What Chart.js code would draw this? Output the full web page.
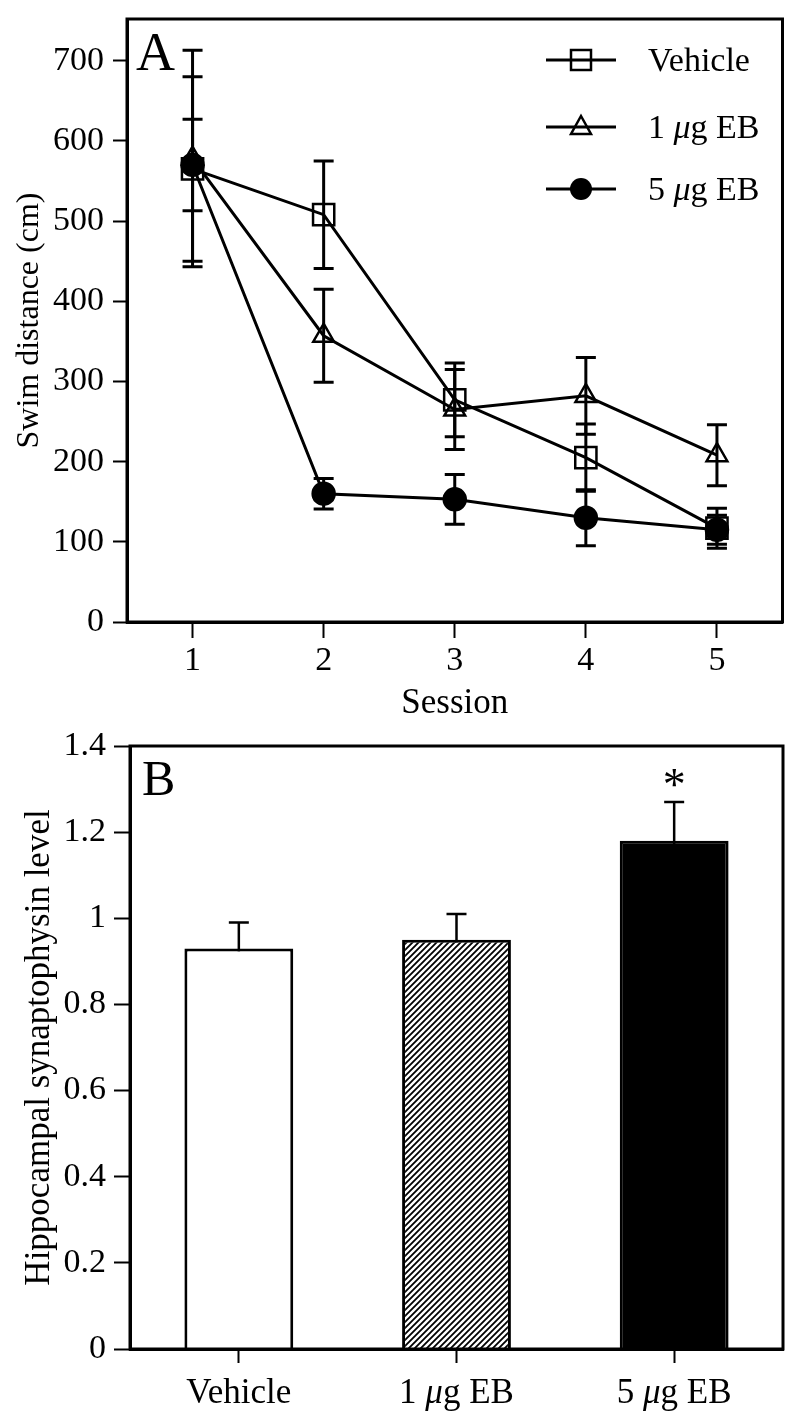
<!DOCTYPE html>
<html><head><meta charset="utf-8">
<script src="https://cdn.jsdelivr.net/npm/chart.js@4.4.1/dist/chart.umd.min.js"></script>
<style>
html,body{margin:0;padding:0;background:#fff;}
#a{position:absolute;left:0;top:0;width:800px;height:725px;}
#b{position:absolute;left:0;top:725px;width:800px;height:697px;}
</style></head><body>
<div id="a"><canvas id="ca"></canvas></div>
<div id="b"><canvas id="cb"></canvas></div>
<script>
// ---- Panel A data ----
const sessions = [1, 2, 3, 4, 5];
const seriesNames = ['Vehicle', '1 μg EB', '5 μg EB'];
const vehicleDist = [565, 508, 277, 205, 117];
const vehicleErr  = [115, 67, 46, 42, 25];
const eb1Dist     = [578, 357, 265, 282, 208];
const eb1Err      = [135, 58, 50, 48, 38];
const eb5Dist     = [570, 160, 153, 130, 115];
const eb5Err      = [57, 19, 31, 35, 18];
const yTicksA     = [0, 100, 200, 300, 400, 500, 600, 700];

// ---- Panel B data ----
const groups    = ['Vehicle', '1 μg EB', '5 μg EB'];
const synLevel  = [0.93, 0.95, 1.18];
const synErr    = [0.06, 0.06, 0.09];
const yTicksB   = [0, 0.2, 0.4, 0.6, 0.8, 1, 1.2, 1.4];
const sigMarks  = ['', '', '*'];

const SERIF = '"Liberation Serif", "DejaVu Serif", serif';

function richParts(str, size) {
  const out = [];
  str.split(/(μ)/).forEach(p => {
    if (!p) return;
    out.push({ t: p, f: (p === 'μ' ? 'italic ' : '') + size + 'px ' + SERIF });
  });
  return out;
}
function drawRich(ctx, str, x, y, size, align) {
  const parts = richParts(str, size);
  let w = 0;
  parts.forEach(p => { ctx.font = p.f; p.w = ctx.measureText(p.t).width; w += p.w; });
  let cx = align === 'center' ? x - w / 2 : x;
  ctx.textAlign = 'left';
  ctx.textBaseline = 'alphabetic';
  parts.forEach(p => { ctx.font = p.f; ctx.fillText(p.t, cx, y); cx += p.w; });
}

const framePlugin = {
  id: 'frame',
  afterDatasetsDraw(chart) {
    const { ctx, chartArea: a } = chart;
    ctx.save();
    ctx.strokeStyle = '#000';
    ctx.lineWidth = 3;
    ctx.strokeRect(a.left, a.top, a.right - a.left, a.bottom - a.top);
    ctx.restore();
  }
};

const errorBarPlugin = {
  id: 'errbars',
  beforeDatasetsDraw(chart, args, opts) {
    const { ctx } = chart;
    const ys = chart.scales.y;
    ctx.save();
    ctx.strokeStyle = '#000';
    ctx.lineWidth = opts.lineWidth || 3;
    const cap = opts.cap || 10;
    chart.data.datasets.forEach((ds, di) => {
      if (!ds.errors) return;
      const meta = chart.getDatasetMeta(di);
      meta.data.forEach((el, i) => {
        const v = ds.data[i];
        const val = (typeof v === 'object') ? v.y : v;
        const e = ds.errors[i];
        const x = el.x;
        const yt = ys.getPixelForValue(val + e);
        const yb = ys.getPixelForValue(val - e);
        ctx.beginPath();
        ctx.moveTo(x, yt); ctx.lineTo(x, yb);
        ctx.moveTo(x - cap, yt); ctx.lineTo(x + cap, yt);
        ctx.moveTo(x - cap, yb); ctx.lineTo(x + cap, yb);
        ctx.stroke();
      });
    });
    ctx.restore();
  }
};

function drawMarker(ctx, style, x, y) {
  ctx.save();
  ctx.strokeStyle = '#000';
  ctx.lineWidth = 2.5;
  ctx.beginPath();
  if (style === 'rect') {
    ctx.rect(x - 10, y - 10, 20, 20);
    ctx.stroke();
  } else if (style === 'triangle') {
    ctx.moveTo(x, y - 11); ctx.lineTo(x + 10, y + 7); ctx.lineTo(x - 10, y + 7); ctx.closePath();
    ctx.stroke();
  } else {
    ctx.arc(x, y, 11, 0, Math.PI * 2);
    ctx.fillStyle = '#000';
    ctx.fill();
  }
  ctx.restore();
}

const legendA = {
  id: 'legendA',
  afterDraw(chart) {
    const { ctx } = chart;
    const rows = [60, 127, 189];
    const styles = ['rect', 'triangle', 'circle'];
    ctx.save();
    ctx.fillStyle = '#000';
    seriesNames.forEach((n, i) => {
      const y = rows[i];
      ctx.strokeStyle = '#000'; ctx.lineWidth = 3;
      ctx.beginPath(); ctx.moveTo(546, y); ctx.lineTo(616, y); ctx.stroke();
      drawMarker(ctx, styles[i], 581, y);
      drawRich(ctx, n, 648, y + 11, 34, 'left');
    });
    ctx.font = '54px ' + SERIF;
    ctx.textAlign = 'left';
    ctx.textBaseline = 'alphabetic';
    ctx.fillText('A', 136, 70);
    ctx.restore();
  }
};

const mkData = (arr) => sessions.map((s, i) => ({ x: s, y: arr[i] }));
const lineDs = (label, arr, err, style, r) => ({
  label, data: mkData(arr), errors: err,
  borderColor: '#000', borderWidth: 3,
  pointStyle: style, pointRadius: r, pointHoverRadius: r,
  pointBorderWidth: 2.5, pointBorderColor: '#000',
  pointBackgroundColor: style === 'circle' ? '#000' : 'rgba(0,0,0,0)',
  tension: 0
});

new Chart(document.getElementById('ca'), {
  type: 'line',
  data: {
    datasets: [
      lineDs(seriesNames[0], vehicleDist, vehicleErr, 'rect', 15),
      lineDs(seriesNames[1], eb1Dist, eb1Err, 'triangle', 12),
      lineDs(seriesNames[2], eb5Dist, eb5Err, 'circle', 11)
    ]
  },
  options: {
    responsive: true, maintainAspectRatio: false, animation: false,
    layout: { padding: { top: 19, right: 17, left: 0, bottom: 0 } },
    plugins: { legend: { display: false }, tooltip: { enabled: false },
      errbars: { lineWidth: 3, cap: 10 } },
    scales: {
      x: {
        type: 'linear', min: 0.5, max: 5.5,
        afterBuildTicks: s => { s.ticks = sessions.map(v => ({ value: v })); },
        afterFit: s => { s.height = 103; s.paddingLeft = 0; s.paddingRight = 0; },
        grid: { drawOnChartArea: false, drawTicks: true, tickLength: 16, tickWidth: 2, tickColor: '#000' },
        border: { display: true, color: '#000', width: 3 },
        ticks: { color: '#000', font: { family: SERIF, size: 34 }, padding: 3, callback: v => String(v) },
        title: { display: true, text: 'Session', color: '#000', font: { family: SERIF, size: 35 }, padding: { top: 0, bottom: 0 } }
      },
      y: {
        min: 0, max: 752,
        afterBuildTicks: s => { s.ticks = yTicksA.map(v => ({ value: v })); },
        afterFit: s => { s.width = 127; s.paddingTop = 0; s.paddingBottom = 0; },
        grid: { drawOnChartArea: false, drawTicks: true, tickLength: 14, tickWidth: 2, tickColor: '#000' },
        border: { display: true, color: '#000', width: 3 },
        ticks: { color: '#000', font: { family: SERIF, size: 34 }, padding: 9, callback: v => String(v) },
        title: { display: true, text: 'Swim distance (cm)', color: '#000', font: { family: SERIF, size: 32 }, padding: { top: 10, bottom: 0 } }
      }
    }
  },
  plugins: [errorBarPlugin, framePlugin, legendA]
});

// ---- Panel B ----
function hatchPattern() {
  const c = document.createElement('canvas');
  c.width = 6; c.height = 6;
  const g = c.getContext('2d');
  g.fillStyle = '#fff'; g.fillRect(0, 0, 6, 6);
  g.strokeStyle = '#000'; g.lineWidth = 1.8;
  g.beginPath();
  g.moveTo(-1, 7); g.lineTo(7, -1);
  g.moveTo(-1, 1); g.lineTo(1, -1);
  g.moveTo(5, 7); g.lineTo(7, 5);
  g.stroke();
  return document.createElement('canvas').getContext('2d').createPattern(c, 'repeat');
}

const legendB = {
  id: 'labelsB',
  afterDraw(chart) {
    const { ctx } = chart;
    const xs = chart.scales.x;
    const ys = chart.scales.y;
    ctx.save();
    ctx.fillStyle = '#000';
    groups.forEach((g, i) => {
      const x = xs.getPixelForTick(i);
      drawRich(ctx, g, x, 678, 35, 'center');
      if (sigMarks[i]) {
        ctx.font = '46px ' + SERIF;
        ctx.textAlign = 'center';
        ctx.textBaseline = 'alphabetic';
        const yTop = ys.getPixelForValue(synLevel[i] + synErr[i]);
        ctx.fillText(sigMarks[i], x, yTop - 2);
      }
    });
    ctx.font = '50px ' + SERIF;
    ctx.textAlign = 'left';
    ctx.textBaseline = 'alphabetic';
    ctx.fillText('B', 142, 70);
    ctx.restore();
  }
};

new Chart(document.getElementById('cb'), {
  type: 'bar',
  data: {
    labels: groups,
    datasets: [{
      data: synLevel, errors: synErr,
      backgroundColor: ['#fff', hatchPattern(), '#000'],
      borderColor: '#000', borderWidth: 3,
      barPercentage: 0.5, categoryPercentage: 1.0
    }]
  },
  options: {
    responsive: true, maintainAspectRatio: false, animation: false,
    layout: { padding: { top: 21, right: 17, left: 0, bottom: 0 } },
    plugins: { legend: { display: false }, tooltip: { enabled: false },
      errbars: { lineWidth: 2.5, cap: 10 } },
    scales: {
      x: {
        type: 'category', offset: true,
        afterFit: s => { s.height = 73; s.paddingLeft = 0; s.paddingRight = 0; },
        grid: { offset: false, drawOnChartArea: false, drawTicks: true, tickLength: 14, tickWidth: 2, tickColor: '#000' },
        border: { display: true, color: '#000', width: 3 },
        ticks: { color: 'rgba(0,0,0,0)', font: { family: SERIF, size: 32 } }
      },
      y: {
        min: 0, max: 1.4,
        afterBuildTicks: s => { s.ticks = yTicksB.map(v => ({ value: v })); },
        afterFit: s => { s.width = 130; s.paddingTop = 0; s.paddingBottom = 0; },
        grid: { drawOnChartArea: false, drawTicks: true, tickLength: 16, tickWidth: 2, tickColor: '#000' },
        border: { display: true, color: '#000', width: 3 },
        ticks: { color: '#000', font: { family: SERIF, size: 34 }, padding: 8, callback: v => String(v) },
        title: { display: true, text: 'Hippocampal synaptophysin level', color: '#000', font: { family: SERIF, size: 35 }, padding: { top: 19, bottom: 0 } }
      }
    }
  },
  plugins: [errorBarPlugin, framePlugin, legendB]
});
</script>
</body></html>
